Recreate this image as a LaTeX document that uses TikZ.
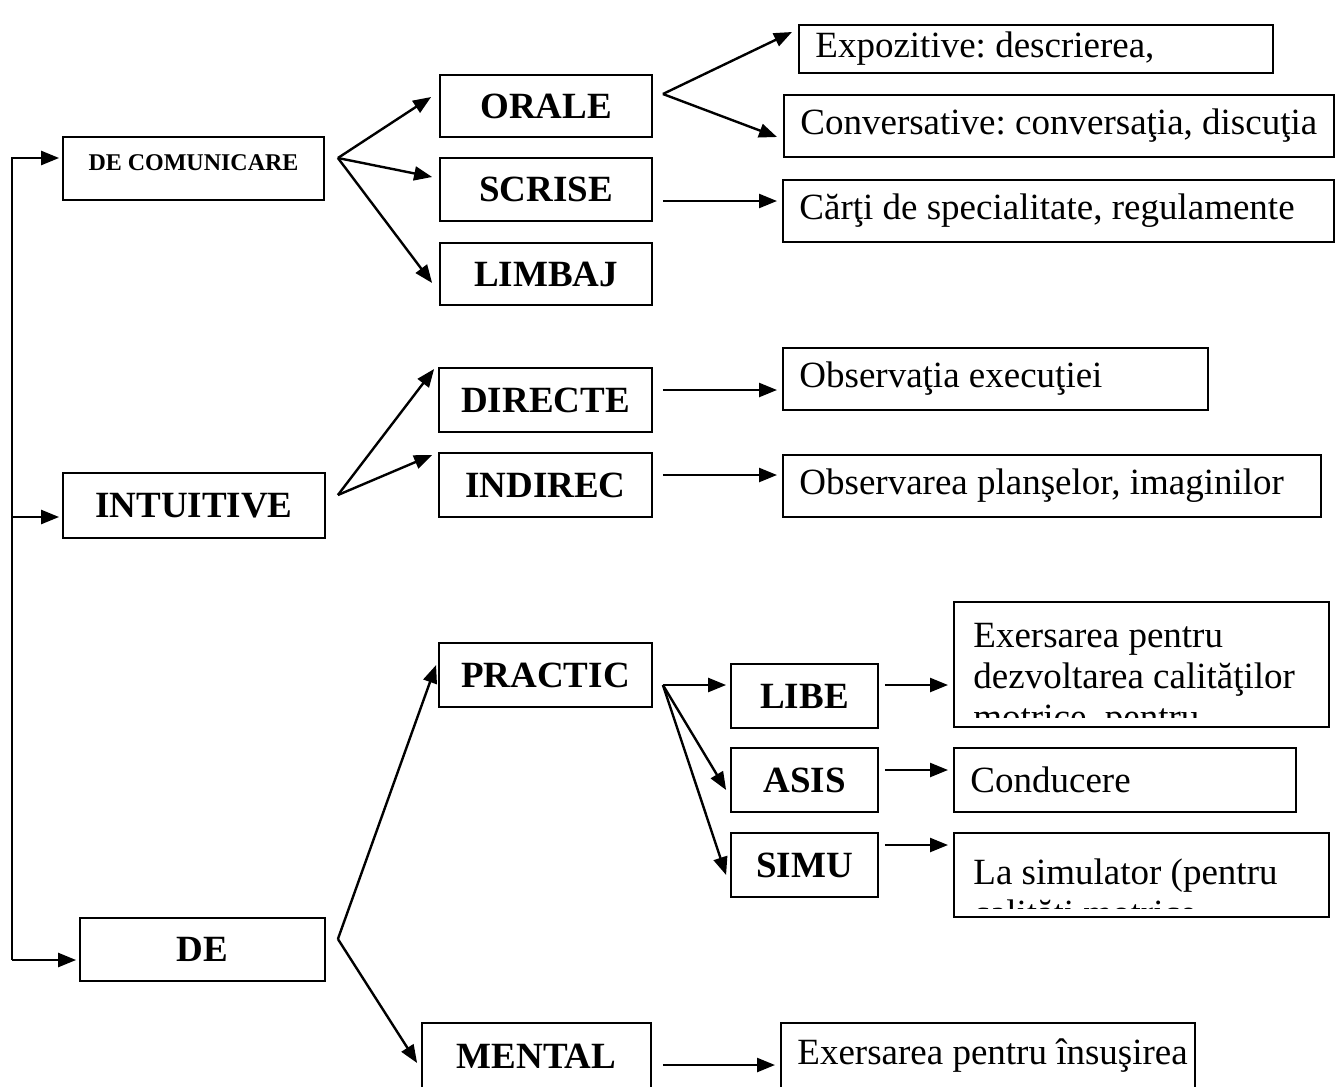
\documentclass[tikz,border=0pt]{standalone}
\usepackage{fontspec}
\setmainfont{Liberation Serif}
\usetikzlibrary{arrows.meta}
\frenchspacing

\newcommand{\bigb}{\fontsize{18.5pt}{20.5pt}\selectfont\bfseries}
\newcommand{\txt}{\fontsize{18.5pt}{20.5pt}\selectfont}

\tikzset{
  box/.style={draw, line width=0.9pt, inner sep=0pt, font=\bigb},
  rbox/.style={draw, line width=0.9pt, anchor=west, inner sep=0pt,
    label={[anchor=west, xshift=8.5pt, inner sep=0pt, font=\txt]west:{#1}}},
  arr/.style={->, line width=1.2pt},
}

\begin{document}
\begin{tikzpicture}[x=0.5pt, y=-0.5pt, >={Triangle[length=9pt,width=7pt]}]
    \useasboundingbox (0,0) rectangle (1336,1086);
    \def\mw{106pt}   %width of middle boxes
    \def\sw{73.5pt}  %width of small boxes

    % first column
    \node[box, minimum width=130.5pt, minimum height=31.5pt, text depth=5.5pt,
          font=\fontsize{12pt}{14pt}\selectfont\bfseries] (com) at (193.5,168.5) {DE COMUNICARE};
    \node[box, minimum width=131pt, minimum height=32.5pt] (intu) at (194,505.5) {INTUITIVE};
    \node[box, minimum width=122.5pt, minimum height=31.5pt] (de) at (202.5,949.5) {DE};

    % second column
    \node[box, minimum width=\mw, minimum height=31pt] (orale) at (546,106) {ORALE};
    \node[box, minimum width=\mw, minimum height=31.5pt] (scrise) at (546,189.5) {SCRISE};
    \node[box, minimum width=\mw, minimum height=31pt] (limbaj) at (546,274) {LIMBAJ};
    \node[box, minimum width=106.5pt, minimum height=32pt] (directe) at (545.5,400) {DIRECTE};
    \node[box, minimum width=106.5pt, minimum height=32pt] (indirec) at (545.5,485) {INDIREC};
    \node[box, minimum width=106.5pt, minimum height=32pt] (practic) at (545.5,675) {PRACTIC};
    \node[box, minimum width=114.5pt, minimum height=33pt] (mental) at (536.5,1056) {MENTAL};

    % third column
    \node[box, minimum width=\sw, minimum height=32pt] (libe) at (804.5,696) {LIBE};
    \node[box, minimum width=\sw, minimum height=32pt] (asis) at (804.5,780) {ASIS};
    \node[box, minimum width=\sw, minimum height=32pt] (simu) at (804.5,865) {SIMU};

    % text boxes
    \node[rbox={Expozitive: descrierea,}, minimum width=237pt, minimum height=24pt] (expo) at (798,49) {};
    \node[rbox={Conversative: conversaţia, discuţia}, minimum width=275pt, minimum height=31pt] (conv) at (783,126) {};
    \node[rbox={Cărţi de specialitate, regulamente}, minimum width=275.5pt, minimum height=31pt] (carti) at (782,211) {};
    \node[rbox={Observaţia execuţiei}, minimum width=212.5pt, minimum height=31pt] (obsd) at (782,379) {};
    \node[rbox={Observarea planşelor, imaginilor}, minimum width=269pt, minimum height=31pt] (obsi) at (782,486) {};
    \node[rbox={Conducere}, minimum width=171pt, minimum height=32pt] (cond) at (953,780) {};
    \node[rbox={Exersarea pentru însuşirea}, minimum width=207pt, minimum height=33pt] (exment) at (780,1056) {};

    \node[draw, line width=0.9pt, anchor=west, minimum width=187.5pt, minimum height=62.5pt] (exlibe) at (953,664.5) {};
    \begin{scope}
        \clip ([shift={(0,-10)}]exlibe.south west) rectangle (exlibe.north east);
        \node[anchor=north west, inner sep=0pt, font=\txt, align=left] (exlibe-t) at ([shift={(20,22)}]exlibe.north west)
            {Exersarea pentru\\dezvoltarea calităţilor\\motrice, pentru};
    \end{scope}

    \node[draw, line width=0.9pt, anchor=west, minimum width=187.5pt, minimum height=42pt] (sim) at (953,875) {};
    \begin{scope}
        \clip ([shift={(0,-9)}]sim.south west) rectangle (sim.north east);
        \node[anchor=north west, inner sep=0pt, font=\txt, align=left] (sim-t) at ([shift={(20,26)}]sim.north west)
            {La simulator (pentru\\calităţi motrice};
    \end{scope}

    % left line
    \coordinate (top) at (12,158);
    \coordinate (mid) at (12,517);
    \coordinate (bot) at (12,960);
    \draw[arr] (bot) -- (top) -- ([shift={(-3,-10.5)}]com.west);
    \draw[arr] (mid) -- ([shift={(-3,11.5)}]intu.west);
    \draw[arr] (bot) -- ([shift={(-3,10.5)}]de.west);

    % fans
    \coordinate (comf) at ([shift={(13,-10.5)}]com.east);
    \draw[arr] (comf) -- ([shift={(-8,-9)}]orale.west);
    \draw[arr] (comf) -- ([shift={(-7,-12.5)}]scrise.west);
    \draw[arr] (comf) -- ([shift={(-7,9)}]limbaj.west);

    \coordinate (oralef) at ([shift={(10,-12)}]orale.east);
    \draw[arr] (oralef) -- ([shift={(-6,-17)}]expo.west);
    \draw[arr] (oralef) -- ([shift={(-6,11)}]conv.west);
    \draw[arr] ([shift={(10,11.5)}]scrise.east) -- ([shift={(-5,-10)}]carti.west);

    \coordinate (intuf) at ([shift={(12,-10.5)}]intu.east);
    \draw[arr] (intuf) -- ([shift={(-4,-31)}]directe.west);
    \draw[arr] (intuf) -- ([shift={(-6,-30)}]indirec.west);
    \draw[arr] ([shift={(10,-10)}]directe.east) -- ([shift={(-5,11)}]obsd.west);
    \draw[arr] ([shift={(10,-10)}]indirec.east) -- ([shift={(-5,-11)}]obsi.west);

    \coordinate (def) at ([shift={(12,-10.5)}]de.east);
    \draw[arr] (def) -- ([shift={(-2,-10)}]practic.west);
    \draw[arr] (def) -- ([shift={(-4,7)}]mental.west);
    \draw[arr] ([shift={(11,9)}]mental.east) -- ([shift={(-5,9)}]exment.west);

    \coordinate (pracf) at ([shift={(10,10)}]practic.east);
    \draw[arr] (pracf) -- ([shift={(-4,-11)}]libe.west);
    \draw[arr] (pracf) -- ([shift={(-4,10)}]asis.west);
    \draw[arr] (pracf) -- ([shift={(-4,10)}]simu.west);
    \draw[arr] ([shift={(6,-11)}]libe.east) -- ([shift={(-5,20.5)}]exlibe.west);
    \draw[arr] ([shift={(6,-10)}]asis.east) -- ([shift={(-5,-10)}]cond.west);
    \draw[arr] ([shift={(6,-20)}]simu.east) -- ([shift={(-5,-30)}]sim.west);
\end{tikzpicture}
\end{document}
